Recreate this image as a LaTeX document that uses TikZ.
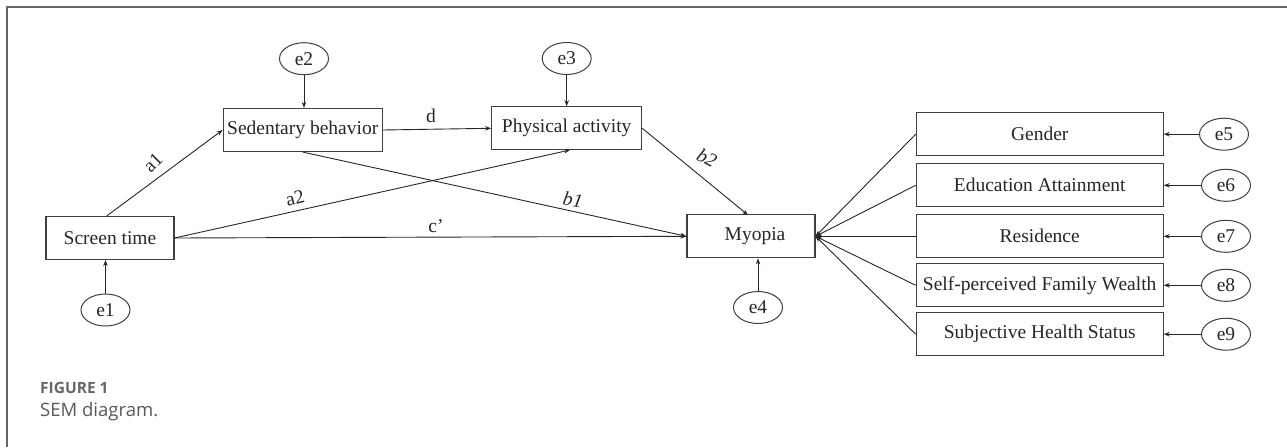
\documentclass[tikz,border=0pt]{standalone}
\usepackage{fontspec}
\setmainfont{Liberation Serif}
\newfontfamily\capfont{Open Sans}
\usetikzlibrary{shapes.geometric,arrows.meta}
\begin{document}
\begin{tikzpicture}[x=1pt,y=-1pt,
  every node/.style={font=\fontsize{19.5}{22}\selectfont, text=black!85},
  box/.style={draw=black!75, line width=1.1pt, rectangle, inner sep=0pt, minimum height=43pt},
  err/.style={draw=black!75, line width=1pt, ellipse, inner sep=0pt, minimum width=49pt, minimum height=32pt},
  path/.style={draw=black!85, line width=0.9pt, -{Stealth[length=6pt,width=4.5pt]}},
  lbl/.style={font=\fontsize{19.5}{22}\selectfont, inner sep=0pt},
  ilbl/.style={font=\fontsize{19.5}{22}\selectfont\itshape, inner sep=0pt}
]
\useasboundingbox (0,0) rectangle (1287,447);
% partial frame
\draw[black!60, line width=1.5pt] (7,447) -- (7,7) -- (1287,7);

% main boxes
\node[box, minimum width=128pt] (st) at (110,238) {Screen time};
\node[box, minimum width=159pt] (sb) at (302.7,130) {Sedentary behavior};
\node[box, minimum width=150pt] (pa) at (566.7,128.3) {Physical activity};
\node[box, minimum width=128pt] (my) at (751,236.3) {\hspace*{8pt}Myopia};

% covariate boxes
\node[box, minimum width=247pt] (g) at (1039.7,134.2) {Gender};
\node[box, minimum width=247pt] (ed) at (1039.7,185.3) {Education Attainment};
\node[box, minimum width=247pt] (re) at (1039.7,236.3) {Residence};
\node[box, minimum width=247pt] (sp) at (1039.7,285.3) {Self-perceived Family Wealth};
\node[box, minimum width=247pt] (sh) at (1039.7,334.2) {Subjective Health Status};

% error terms
\node[err] (e1) at (105.5,310) {e1};
\node[err] (e2) at (304,58.7) {e2};
\node[err] (e3) at (566.7,58.5) {e3};
\node[err] (e4) at (758,307.5) {e4};
\node[err] (e5) at (1224,134.2) {e5};
\node[err] (e6) at (1226,185.3) {e6};
\node[err] (e7) at (1226,236.3) {e7};
\node[err] (e8) at (1226,285.3) {e8};
\node[err] (e9) at (1226,334.2) {e9};

% error arrows
\draw[path] (e1.north) -- (e1.north |- st.south);
\draw[path] (e2.south) -- (e2.south |- sb.north);
\draw[path] (e3.south) -- (e3.south |- pa.north);
\draw[path] (e4.north) -- (e4.north |- my.south);
\draw[path] (e5.west) -- (g.east);
\draw[path] (e6.west) -- (ed.east);
\draw[path] (e7.west) -- (re.east);
\draw[path] (e8.west) -- (sp.east);
\draw[path] (e9.west) -- (sh.east);

% structural paths
\coordinate (stTop) at (106.7,216.7);
\coordinate (paBot) at (570,150);
\coordinate (myTop) at (748,215);
\draw[path] (st.north -| stTop) -- (sb.west);
\draw[path] (st.east) -- (paBot);
\draw[path] (st.east) -- (my.west);
\draw[path] (sb.east) -- (pa.west);
\draw[path] (sb.south) -- (my.west);
\draw[path] (pa.east) -- (myTop);

% path labels
\node[lbl, rotate=45] (la1) at (153,163) {a1};
\node[lbl, rotate=14] (la2) at (295,198) {a2};
\node[lbl] (lc) at (436,226) {c’};
\node[lbl] (ld) at (431,116) {d};
\node[ilbl, rotate=-10] (lb1) at (573,200) {b1};
\node[ilbl, rotate=-28] (lb2) at (707,158) {b2};

% covariates to myopia
\draw[path] (g.west) -- (my.east);
\draw[path] (ed.west) -- (my.east);
\draw[path] (re.west) -- (my.east);
\draw[path] (sp.west) -- (my.east);
\draw[path] (sh.west) -- (my.east);

% caption
\node[anchor=west, font=\capfont\bfseries\fontsize{15.5}{18}\selectfont, text=black!60, inner sep=0pt] (fig) at (40,388) {FIGURE 1};
\node[anchor=west, font=\capfont\fontsize{18.5}{22}\selectfont, text=black!65, inner sep=0pt] (cap) at (40,412) {SEM diagram.};
\end{tikzpicture}
\end{document}
